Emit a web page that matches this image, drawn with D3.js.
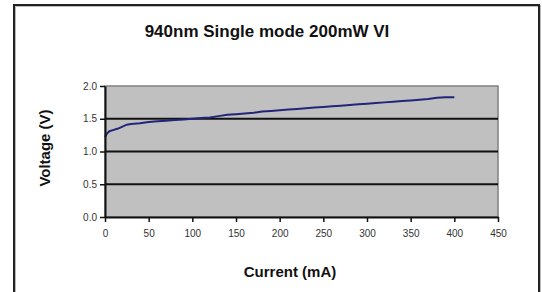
<!DOCTYPE html>
<html>
<head>
<meta charset="utf-8">
<script src="https://cdn.jsdelivr.net/npm/d3@7"></script>
<style>
  body { margin: 0; background: #fff; }
  text { font-family: "Liberation Sans", Arial, sans-serif; }
</style>
</head>
<body>
<div class="chart"></div>
<script>
// current (mA) vs voltage (V)
var current = [0, 2, 5, 10, 15, 20, 25, 30, 40, 50, 60, 70, 80, 90, 100, 110, 120, 130, 140, 150,
    160, 170, 180, 190, 200, 210, 220, 230, 240, 250, 260, 270, 280, 290, 300, 310, 320, 330,
    340, 350, 360, 370, 380, 390, 400];
var voltage = [1.22, 1.27, 1.31, 1.33, 1.35, 1.38, 1.41, 1.42, 1.43, 1.45, 1.46, 1.47, 1.48, 1.49, 1.50,
    1.51, 1.52, 1.54, 1.56, 1.57, 1.58, 1.59, 1.61, 1.62, 1.63, 1.64, 1.65, 1.66, 1.67, 1.68,
    1.69, 1.70, 1.71, 1.72, 1.73, 1.74, 1.75, 1.76, 1.77, 1.78, 1.79, 1.80, 1.82, 1.83, 1.83];
var xTicks = [0, 50, 100, 150, 200, 250, 300, 350, 400, 450];
var yTicks = [0, 0.5, 1.0, 1.5, 2.0];

var data = current.map((c, i) => ({current: c, voltage: voltage[i]}));

var fullWidth = 542, fullHeight = 292;
var margin = {top: 86, bottom: 75, left: 105, right: 44};
var width = fullWidth - margin.left - margin.right;
var height = fullHeight - margin.top - margin.bottom;

var root = d3.select(`.chart`)
    .append(`svg`)
    .attr(`width`, fullWidth)
    .attr(`height`, fullHeight);

// outer frame
root.append(`rect`)
    .attr(`x`, 15).attr(`y`, 6)
    .attr(`width`, 525).attr(`height`, 300)
    .style(`fill`, `none`)
    .style(`stroke`, `#bbb`)
    .style(`stroke-width`, 2);
root.append(`rect`)
    .attr(`x`, 14).attr(`y`, 5)
    .attr(`width`, 525).attr(`height`, 300)
    .style(`fill`, `none`)
    .style(`stroke`, `#222`)
    .style(`stroke-width`, 2);

root.append(`text`)
    .attr(`x`, 267).attr(`y`, 37)
    .style(`text-anchor`, `middle`)
    .style(`font-weight`, `bold`)
    .style(`font-size`, `17px`)
    .style(`fill`, `#111`)
    .text(`940nm Single mode 200mW VI`);

var svg = root.append(`g`)
    .attr(`transform`, `translate(${margin.left},${margin.top})`);

var xScale = d3.scaleLinear().domain([0, 450]).range([0, width]);
var yScale = d3.scaleLinear().domain([0, 2]).range([height, 0]);

svg.append(`rect`)
    .attr(`width`, width).attr(`height`, height)
    .style(`fill`, `#c0c0c0`)
    .style(`stroke`, `#808080`)
    .style(`stroke-width`, 1.5);

// gridlines
svg.selectAll(`.grid`)
    .data(yTicks.filter(d => d > 0 && d < 2))
    .enter()
    .append(`line`)
    .attr(`class`, `grid`)
    .attr(`x1`, 0).attr(`x2`, width)
    .attr(`y1`, d => yScale(d)).attr(`y2`, d => yScale(d))
    .style(`stroke`, `#111`)
    .style(`stroke-width`, 2);

var line = d3.line()
    .x(d => xScale(d.current))
    .y(d => yScale(d.voltage));

svg.append(`path`)
    .datum(data)
    .attr(`d`, line)
    .style(`fill`, `none`)
    .style(`stroke`, `#24247a`)
    .style(`stroke-width`, 2);

var yAxis = d3.axisLeft(yScale)
    .tickValues(yTicks)
    .tickFormat(d3.format(`.1f`))
    .tickSize(5)
    .tickSizeOuter(0);
var gy = svg.append(`g`).call(yAxis);

var xAxis = d3.axisBottom(xScale)
    .tickValues(xTicks)
    .tickSize(5)
    .tickSizeOuter(0);
var gx = svg.append(`g`)
    .attr(`transform`, `translate(0, ${height})`)
    .call(xAxis);

[gx, gy].forEach(g => {
    g.select(`.domain`).style(`stroke`, `#111`).style(`stroke-width`, 2);
    g.selectAll(`.tick line`).style(`stroke`, `#111`).style(`stroke-width`, 1.5);
    g.selectAll(`.tick text`)
        .style(`font-family`, `"Liberation Sans", Arial, sans-serif`)
        .style(`font-size`, `10px`)
        .style(`fill`, `#333`);
});
gx.selectAll(`.tick text`).attr(`dy`, `1.2em`);

root.append(`text`)
    .attr(`x`, 290).attr(`y`, 277)
    .style(`text-anchor`, `middle`)
    .style(`font-weight`, `bold`)
    .style(`font-size`, `15px`)
    .style(`fill`, `#111`)
    .text(`Current (mA)`);

root.append(`text`)
    .attr(`transform`, `translate(50, 148) rotate(-90)`)
    .style(`text-anchor`, `middle`)
    .style(`font-weight`, `bold`)
    .style(`font-size`, `15px`)
    .style(`fill`, `#111`)
    .text(`Voltage (V)`);
</script>
</body>
</html>
